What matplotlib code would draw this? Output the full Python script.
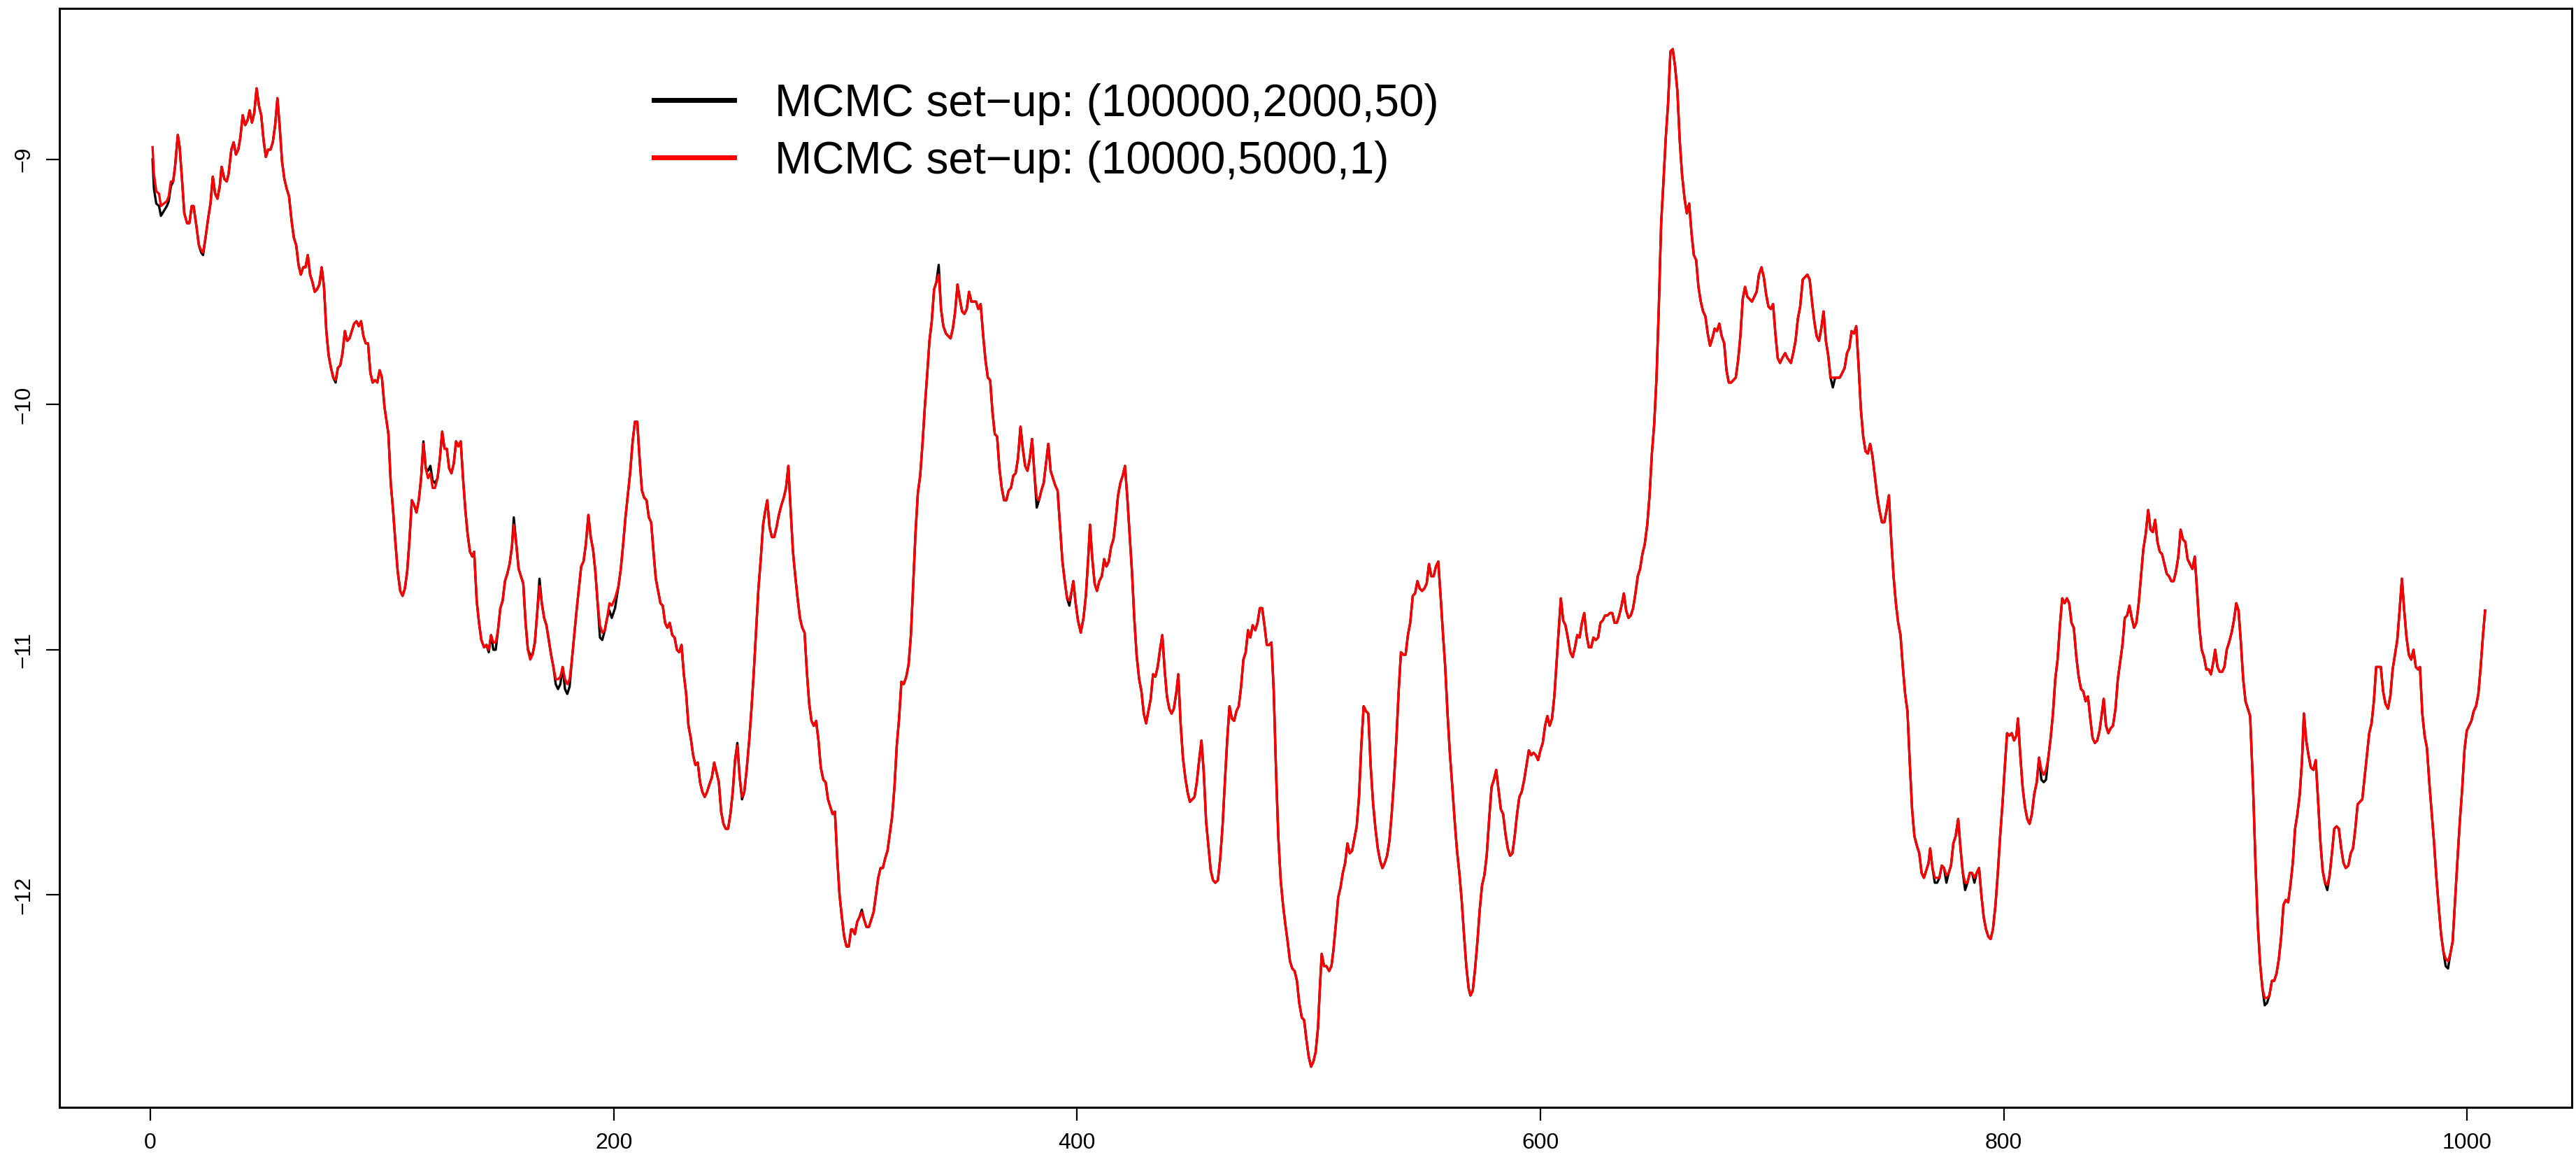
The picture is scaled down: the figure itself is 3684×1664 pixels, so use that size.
# MCMC trace comparison: two set-ups plotted over the same index range
import numpy as np
import matplotlib.pyplot as plt
from matplotlib.lines import Line2D

plt.rcParams['font.family'] = ['Liberation Sans', 'DejaVu Sans']

# index positions and values of the red series (10000,5000,1) in pieces
step_a = [1, 1.6, 2.6, 3.8, 4.6, 5.9, 7.2, 8, 8.9, 9.9,
          10.7, 11.9, 12.7, 13.7, 14.7, 15.9, 16.9, 17.9, 18.7, 19.9,
          21, 22, 22.8, 24, 25, 26, 27, 28, 29, 30,
          30.8, 32, 33, 33.8, 35, 36, 37, 38, 38.9, 39.9,
          41, 42, 42.9, 43.9, 44.9, 45.9, 46.9, 47.9, 48.9, 49.9,
          50.9, 51.9, 52.9, 53.9, 54.9, 55.9, 56.9, 57.9, 58.9, 59.9,
          61, 62, 63, 64, 65, 66, 67, 68, 69, 70,
          71, 72, 73, 74, 75, 76, 77, 78, 79, 80,
          81, 82, 83, 84, 85, 86, 87, 88, 89, 90,
          91, 92, 93, 94, 95, 96, 97, 98, 99, 100]
red_a = [-8.95, -9.06, -9.13, -9.14, -9.19, -9.18, -9.17, -9.15, -9.09, -9.09,
         -9.03, -8.90, -8.95, -9.08, -9.22, -9.26, -9.26, -9.19, -9.19, -9.27,
         -9.35, -9.37, -9.38, -9.31, -9.24, -9.18, -9.07, -9.14, -9.16, -9.11,
         -9.03, -9.08, -9.09, -9.06, -8.96, -8.93, -8.98, -8.96, -8.91, -8.82,
         -8.86, -8.84, -8.80, -8.85, -8.81, -8.71, -8.78, -8.82, -8.92, -8.99,
         -8.96, -8.96, -8.93, -8.86, -8.75, -8.87, -9.01, -9.08, -9.12, -9.15,
         -9.25, -9.32, -9.35, -9.43, -9.47, -9.44, -9.44, -9.39, -9.47, -9.50,
         -9.54, -9.53, -9.51, -9.44, -9.52, -9.70, -9.80, -9.85, -9.89, -9.90,
         -9.85, -9.84, -9.79, -9.70, -9.74, -9.73, -9.70, -9.67, -9.66, -9.68,
         -9.66, -9.72, -9.75, -9.75, -9.87, -9.91, -9.90, -9.91, -9.86, -9.89]

step_b = [101.1, 102.8, 103.8, 104.8, 105.8, 106.8, 107.9, 108.9, 109.9, 110.9,
          111.9, 112.9, 113.9, 114.9, 115.9, 116.9, 117.9, 118.9, 119.9, 120.9,
          121.9, 122.9, 124, 125, 126, 127, 128, 129, 130, 131,
          132, 133, 134, 135, 136, 137, 138, 139, 139.8, 140.9,
          141.9, 142.9, 144.1, 145.1, 146.1, 147.1, 148.1, 149.1, 150.1, 151.1,
          152.1, 153.1, 154.1, 155.1, 156.1, 156.9, 158, 159, 160, 161,
          162, 163, 164, 165, 166, 167, 168, 169, 170, 171,
          172, 173, 174, 175, 176, 177, 178, 179, 180, 181,
          182, 183, 184, 185, 186, 187, 188, 189.1, 190.1, 191.1,
          192.1, 193.1, 194.1, 195.1, 196.2, 197.2, 198.2, 199.2]
red_b = [-10.01, -10.12, -10.32, -10.43, -10.56, -10.68, -10.76, -10.78, -10.75, -10.68,
         -10.55, -10.39, -10.41, -10.44, -10.39, -10.30, -10.16, -10.26, -10.30, -10.28,
         -10.34, -10.34, -10.30, -10.22, -10.11, -10.18, -10.18, -10.26, -10.28, -10.24,
         -10.15, -10.17, -10.15, -10.30, -10.43, -10.53, -10.60, -10.62, -10.60, -10.80,
         -10.89, -10.96, -10.99, -10.98, -11.00, -10.94, -10.97, -10.97, -10.92, -10.83,
         -10.80, -10.72, -10.69, -10.65, -10.58, -10.49, -10.57, -10.67, -10.70, -10.73,
         -10.89, -11.00, -11.04, -11.02, -10.97, -10.85, -10.74, -10.81, -10.87, -10.90,
         -10.96, -11.02, -11.07, -11.12, -11.12, -11.11, -11.07, -11.12, -11.14, -11.12,
         -11.04, -10.94, -10.84, -10.75, -10.66, -10.64, -10.57, -10.45, -10.54, -10.59,
         -10.68, -10.81, -10.90, -10.93, -10.92, -10.87, -10.81, -10.82]

step_c = [200.6, 202.1, 203.1, 204.1, 205.1, 206.1, 207.1, 208.2, 209.2, 210.2,
          211.2, 212.2, 213.2, 214.2, 215.2, 216.2, 217.2, 218.2, 219.2, 220.2,
          221.2, 222.2, 223.2, 224.2, 225.3, 226.3, 227.3, 228.3, 229.3, 230.3,
          231.3, 232.3, 233.3, 234.3, 235.3, 236.3, 237.3, 238.3, 239.3, 240.3,
          241.3, 242.4, 243.4, 244.4, 245.4, 246.4, 247.4, 248.4, 249.4, 250.4,
          251.4, 252.4, 253.4, 254.4, 255.4, 256.4, 257.4, 258.5, 259.5, 260.5,
          261.5, 262.5, 263.5, 264.5, 265.5, 266.3, 267.3, 268.3, 269.3, 270.3,
          271.3, 272.4, 273.4, 274.4, 275.4, 276.4, 277.4, 278.4, 279.4, 280.4,
          281.4, 282.4, 283.4, 284.4, 285.4, 286.4, 287.4, 288.4, 289.4, 290.5,
          291.5, 292.5, 293.5, 294.5, 295.5, 296.5, 297.5, 298.5, 299.5, 300.5]
red_c = [-10.79, -10.74, -10.67, -10.57, -10.46, -10.37, -10.28, -10.15, -10.07, -10.07,
         -10.22, -10.35, -10.38, -10.39, -10.46, -10.48, -10.60, -10.71, -10.76, -10.81,
         -10.82, -10.89, -10.91, -10.89, -10.94, -10.95, -11.00, -11.01, -10.98, -11.10,
         -11.18, -11.31, -11.36, -11.43, -11.47, -11.46, -11.54, -11.58, -11.60, -11.58,
         -11.55, -11.52, -11.46, -11.50, -11.54, -11.66, -11.71, -11.73, -11.73, -11.67,
         -11.58, -11.45, -11.39, -11.52, -11.60, -11.58, -11.49, -11.37, -11.24, -11.09,
         -10.92, -10.75, -10.63, -10.49, -10.43, -10.39, -10.50, -10.54, -10.54, -10.50,
         -10.45, -10.41, -10.38, -10.34, -10.25, -10.43, -10.60, -10.70, -10.79, -10.87,
         -10.91, -10.93, -11.09, -11.22, -11.29, -11.31, -11.29, -11.37, -11.48, -11.53,
         -11.54, -11.61, -11.64, -11.67, -11.66, -11.85, -12.00, -12.09, -12.17, -12.21]

step_d = [301.5, 302.5, 303.1, 304.1, 305.1, 306.1, 307.1, 308.1, 309.1, 310.2,
          311.2, 312.2, 313.2, 314.2, 315.2, 316.2, 317.2, 318.2, 319.2, 320.2,
          321.2, 322.2, 323.2, 324.2, 325.2, 326.3, 327.3, 328.3, 329.3, 330.3,
          331.3, 332.3, 333.3, 334.3, 335.3, 336.3, 337.3, 338.3, 339.3, 340.3,
          341.3, 342.3, 343.4, 344.4, 345.4, 346.4, 347.4, 348.4, 349.4, 350.4,
          351.4, 352.4, 353.4, 354.4, 355.4, 356.4, 357.4, 358.4, 359.5, 360.5,
          361.5, 362.5, 363.5, 364.5, 365.5, 366.5, 367.5, 368.5, 369.5, 370.5,
          371.5, 372.5, 373.5, 374.5, 375.6, 376.6, 377.6, 378.6, 379.6, 380.6,
          381.6, 382.6, 383.6, 384.6, 385.6, 386.6, 387.6, 388.6, 389.6, 390.6,
          391.6, 392.7, 393.7, 394.7, 395.7, 396.7, 397.7, 398.4, 399.4, 400.4]
red_d = [-12.21, -12.14, -12.14, -12.16, -12.11, -12.09, -12.07, -12.10, -12.13, -12.13,
         -12.10, -12.07, -12.00, -11.93, -11.89, -11.89, -11.85, -11.82, -11.75, -11.68,
         -11.56, -11.39, -11.28, -11.13, -11.14, -11.11, -11.06, -10.94, -10.73, -10.52,
         -10.36, -10.29, -10.16, -10.01, -9.88, -9.74, -9.66, -9.53, -9.50, -9.47,
         -9.61, -9.68, -9.71, -9.72, -9.73, -9.69, -9.62, -9.51, -9.57, -9.62,
         -9.63, -9.61, -9.54, -9.58, -9.58, -9.58, -9.61, -9.59, -9.72, -9.82,
         -9.89, -9.90, -10.03, -10.12, -10.13, -10.26, -10.34, -10.39, -10.39, -10.35,
         -10.34, -10.29, -10.28, -10.22, -10.09, -10.18, -10.25, -10.27, -10.22, -10.14,
         -10.28, -10.38, -10.39, -10.35, -10.32, -10.24, -10.16, -10.27, -10.30, -10.33,
         -10.35, -10.50, -10.64, -10.72, -10.79, -10.80, -10.76, -10.72, -10.81, -10.88]

step_e = [401.6, 402.8, 403.8, 404.8, 405.6, 406.6, 407.6, 408.6, 409.6, 410.7,
          411.7, 412.7, 413.7, 414.7, 415.7, 416.7, 417.7, 418.7, 419.7, 420.7,
          421.7, 422.7, 423.7, 424.7, 425.7, 426.8, 427.8, 428.8, 429.8, 430.8,
          431.8, 432.8, 433.8, 434.8, 435.8, 436.8, 437.8, 438.8, 439.8, 440.8,
          441.8, 442.9, 443.7, 444.7, 445.7, 446.7, 447.7, 448.7, 449.7, 450.7,
          451.7, 452.7, 453.7, 454.7, 455.7, 456.7, 457.7, 458.7, 459.7, 460.8,
          461.8, 462.8, 463.8, 464.8, 465.8, 466.8, 467.8, 468.8, 469.8, 470.8,
          471.8, 472.8, 473.8, 474.8, 475.8, 476.9, 477.9, 478.9, 479.9, 480.9,
          481.9, 482.9, 483.9, 484.9, 485.9, 486.9, 487.9, 488.9, 489.9, 490.9,
          491.9, 492.9, 493.9, 494.9, 495.9, 497, 498, 499, 500, 501,
          502, 503, 504]
red_e = [-10.93, -10.87, -10.78, -10.63, -10.49, -10.63, -10.73, -10.76, -10.72, -10.70,
         -10.63, -10.66, -10.64, -10.58, -10.55, -10.47, -10.37, -10.32, -10.29, -10.25,
         -10.38, -10.53, -10.68, -10.87, -11.02, -11.12, -11.17, -11.26, -11.30, -11.25,
         -11.20, -11.10, -11.11, -11.07, -11.00, -10.94, -11.08, -11.19, -11.24, -11.26,
         -11.24, -11.17, -11.10, -11.30, -11.44, -11.52, -11.58, -11.62, -11.61, -11.60,
         -11.54, -11.45, -11.37, -11.50, -11.70, -11.80, -11.90, -11.94, -11.95, -11.94,
         -11.85, -11.72, -11.54, -11.37, -11.23, -11.28, -11.29, -11.25, -11.23, -11.15,
         -11.04, -11.01, -10.92, -10.95, -10.90, -10.92, -10.89, -10.83, -10.83, -10.90,
         -10.98, -10.98, -10.97, -11.17, -11.50, -11.77, -11.94, -12.04, -12.12, -12.19,
         -12.27, -12.30, -12.31, -12.35, -12.44, -12.50, -12.51, -12.59, -12.66, -12.70,
         -12.68, -12.64, -12.54]

step_f = [504.8, 505.6, 506.6, 507.6, 508.8, 509.8, 510.6, 511.7, 512.7, 513.7,
          514.7, 515.7, 516.7, 517.7, 518.7, 519.7, 520.7, 521.7, 522.7, 523.7,
          524.7, 525.7, 526.7, 527.8, 528.8, 529.8, 530.8, 531.8, 532.8, 533.8,
          534.8, 535.8, 536.8, 537.8, 538.8, 539.8, 540.8, 541.8, 542.8, 543.8,
          544.9, 545.9, 546.9, 547.9, 548.9, 549.9, 550.9, 551.9, 552.9, 553.9,
          554.9, 555.9, 556.9, 557.9, 558.9, 559.9, 560.9, 561.9, 563, 564,
          565, 566, 567, 568, 569, 569.8, 570.8, 571.8, 572.8, 573.8,
          574.8, 575.8, 576.8, 577.8, 578.9, 579.9, 580.9, 581.9, 582.9, 583.9,
          584.9, 585.9, 586.9, 587.9, 588.9, 589.9, 590.9, 591.9, 593, 594,
          595, 596, 597, 598, 599, 600, 601, 602, 603, 604,
          605, 606]
red_f = [-12.38, -12.24, -12.29, -12.29, -12.31, -12.29, -12.23, -12.12, -12.01, -11.97,
         -11.91, -11.87, -11.79, -11.83, -11.82, -11.77, -11.72, -11.60, -11.39, -11.23,
         -11.25, -11.26, -11.47, -11.63, -11.73, -11.81, -11.86, -11.89, -11.87, -11.84,
         -11.78, -11.67, -11.53, -11.37, -11.17, -11.01, -11.02, -11.02, -10.94, -10.89,
         -10.78, -10.77, -10.72, -10.75, -10.76, -10.75, -10.73, -10.65, -10.70, -10.70,
         -10.66, -10.64, -10.78, -10.93, -11.07, -11.26, -11.42, -11.55, -11.70, -11.82,
         -11.91, -12.02, -12.16, -12.29, -12.38, -12.41, -12.39, -12.30, -12.19, -12.06,
         -11.96, -11.92, -11.84, -11.70, -11.56, -11.53, -11.49, -11.57, -11.65, -11.67,
         -11.75, -11.81, -11.84, -11.83, -11.76, -11.67, -11.60, -11.58, -11.53, -11.47,
         -11.41, -11.43, -11.42, -11.43, -11.45, -11.41, -11.38, -11.31, -11.27, -11.31,
         -11.28, -11.19]

step_g = [607.8, 608.8, 609.8, 610.8, 611.8, 612.9, 613.9, 614.9, 615.9, 616.9,
          617.9, 618.9, 619.9, 620.9, 621.9, 622.9, 623.9, 624.9, 625.9, 626.9,
          627.9, 628.9, 630, 631, 632, 633, 634, 635, 636, 637,
          638, 639, 640, 641, 642, 643, 644, 645, 646.1, 647.1,
          648.1, 649.1, 650.1, 651.1, 652.1, 653.1, 654.1, 655.1, 656.1, 657.1,
          658.1, 659.1, 660.1, 661.1, 662.2, 663.2, 664.2, 665.2, 666.2, 667.2,
          668.2, 669.2, 670.2, 671.2, 672.2, 673.2, 674.2, 675.2, 676.2, 677.2,
          678.2, 679.3, 680.3, 681.3, 682.3, 683.3, 684.3, 685.3, 686.3, 687.3,
          688.3, 689.3, 690.3, 691.3, 692.3, 693.3, 694.3, 695.4, 696.4, 697.4,
          698.4, 699.4, 700.4, 701.4, 702.4, 703.4, 704.4]
red_g = [-10.93, -10.79, -10.88, -10.90, -10.95, -11.01, -11.03, -10.99, -10.94, -10.95,
         -10.89, -10.85, -10.94, -10.99, -10.99, -10.95, -10.96, -10.95, -10.89, -10.88,
         -10.86, -10.86, -10.85, -10.85, -10.89, -10.89, -10.86, -10.82, -10.77, -10.84,
         -10.87, -10.86, -10.83, -10.77, -10.70, -10.67, -10.61, -10.57, -10.49, -10.37,
         -10.20, -10.08, -9.89, -9.60, -9.26, -9.09, -8.91, -8.77, -8.56, -8.55,
         -8.62, -8.72, -8.92, -9.06, -9.16, -9.22, -9.18, -9.30, -9.39, -9.41,
         -9.52, -9.58, -9.62, -9.64, -9.71, -9.76, -9.73, -9.69, -9.70, -9.67,
         -9.72, -9.75, -9.86, -9.91, -9.91, -9.90, -9.89, -9.82, -9.72, -9.57,
         -9.52, -9.56, -9.57, -9.58, -9.56, -9.54, -9.47, -9.44, -9.48, -9.55,
         -9.60, -9.61, -9.59, -9.71, -9.81, -9.83, -9.81]

step_h = [705.6, 706.6, 708.1, 709.1, 710.1, 711.1, 712.1, 713.2, 714.2, 715.2,
          716.2, 717.2, 718.2, 719.2, 720.2, 721.2, 722.2, 723.2, 724.2, 725.2,
          726.2, 727.2, 728.2, 729.2, 730.3, 731.3, 732.3, 733.3, 734.3, 735.3,
          736.3, 737.3, 738.3, 739.3, 740.3, 741.3, 742.3, 743.3, 744.3, 745.3,
          746.3, 747.4, 748.4, 749.4, 750.4, 751.4, 752.4, 753.4, 754.4, 755.4,
          756.4, 757.4, 758.4, 759.4, 760.4, 761.4, 762.5, 763.5, 764.5, 765.5,
          766.5, 767.5, 768.2, 769.2, 770.2, 771.2, 772.2, 773.2, 774.2, 775.2,
          776.2, 777.2, 778.2, 779.2, 780.3, 781.3, 782.3, 783.3, 784.3, 785.3,
          786.3, 787.3, 788.3, 789.3, 790.3, 791.3, 792.3, 793.3, 794.3, 795.3,
          796.4, 797.4, 798.4, 799.4, 800.4, 801.4, 802.4, 803.4, 804.4, 805.4]
red_h = [-9.79, -9.81, -9.83, -9.79, -9.74, -9.65, -9.60, -9.49, -9.48, -9.47,
         -9.49, -9.58, -9.66, -9.72, -9.74, -9.69, -9.62, -9.74, -9.80, -9.89,
         -9.89, -9.89, -9.89, -9.89, -9.87, -9.85, -9.79, -9.77, -9.70, -9.71,
         -9.68, -9.84, -10.02, -10.13, -10.19, -10.20, -10.16, -10.21, -10.29, -10.37,
         -10.43, -10.48, -10.48, -10.43, -10.37, -10.55, -10.70, -10.81, -10.89, -10.94,
         -11.07, -11.18, -11.25, -11.46, -11.65, -11.76, -11.80, -11.83, -11.91, -11.93,
         -11.90, -11.87, -11.81, -11.89, -11.93, -11.93, -11.93, -11.88, -11.89, -11.92,
         -11.91, -11.88, -11.79, -11.76, -11.69, -11.81, -11.91, -11.95, -11.95, -11.91,
         -11.91, -11.93, -11.91, -11.89, -12.00, -12.09, -12.14, -12.17, -12.18, -12.14,
         -12.04, -11.91, -11.76, -11.63, -11.48, -11.34, -11.35, -11.34, -11.37, -11.35]

step_i = [806.1, 807.1, 808.1, 809.1, 810.1, 811.1, 812.1, 813.1, 814.2, 815.2,
          816.2, 817.2, 818.2, 819.2, 820.2, 821.2, 822.2, 823.2, 824.2, 825.2,
          826.2, 827.2, 828.2, 829.2, 830.2, 831.3, 832.3, 833.3, 834.3, 835.3,
          836.3, 837.3, 838.3, 839.3, 840.3, 841.3, 842.3, 843.1, 844.1, 845.1,
          846.1, 847.1, 848.2, 849.2, 850.2, 851.2, 852.2, 853.2, 854.2, 855.2,
          856.2, 857.2, 858.2, 859.2, 860.2, 861.2, 862.3, 863.3, 864.3, 865.3,
          866.3, 867.3, 868.3, 869.3, 870.3, 871.3, 872.3, 873.3, 874.3, 875.3,
          876.3, 877.3, 878.3, 879.3, 880.3, 881.4, 882.4, 883.4, 884.4, 885.4,
          886.4, 887.4, 888.4, 889.4, 890.4, 891.2, 892.2, 893.2, 894.2, 895.2,
          896.2, 897.2, 898.3, 899.3, 900.3, 901.3, 902.3, 903.3, 904.3, 905.3,
          906.3]
red_i = [-11.28, -11.43, -11.56, -11.64, -11.69, -11.71, -11.67, -11.59, -11.54, -11.44,
         -11.49, -11.51, -11.49, -11.44, -11.36, -11.26, -11.12, -11.04, -10.90, -10.79,
         -10.81, -10.79, -10.81, -10.89, -10.91, -11.03, -11.11, -11.16, -11.17, -11.21,
         -11.19, -11.28, -11.36, -11.38, -11.37, -11.33, -11.26, -11.20, -11.31, -11.34,
         -11.32, -11.31, -11.24, -11.12, -11.05, -10.98, -10.87, -10.86, -10.82, -10.87,
         -10.91, -10.89, -10.81, -10.70, -10.59, -10.53, -10.43, -10.51, -10.52, -10.47,
         -10.56, -10.60, -10.61, -10.65, -10.69, -10.70, -10.72, -10.72, -10.68, -10.62,
         -10.51, -10.55, -10.56, -10.63, -10.65, -10.67, -10.62, -10.76, -10.91, -11.00,
         -11.03, -11.08, -11.08, -11.10, -11.05, -11.00, -11.07, -11.09, -11.09, -11.07,
         -11.00, -10.97, -10.93, -10.88, -10.81, -10.84, -10.97, -11.12, -11.21, -11.24,
         -11.27]

step_j = [907.6, 908.6, 909.6, 910.6, 911.6, 912.6, 913.6, 914.6, 915.7, 916.7,
          917.7, 918.7, 919.7, 920.7, 921.7, 922.7, 923.7, 924.7, 925.7, 926.7,
          927.7, 928.7, 929.5, 930.5, 931.5, 932.5, 933.6, 934.6, 935.6, 936.6,
          937.6, 938.6, 939.6, 940.6, 941.6, 942.6, 943.6, 944.6, 945.6, 946.6,
          947.6, 948.7, 949.7, 950.7, 951.7, 952.7, 953.7, 954.7, 955.7, 956.7,
          957.7, 958.7, 959.7, 960.7, 961.7, 962.7, 963.7, 964.7, 965.8, 966.8,
          967.8, 968.8, 969.8, 970.8, 971.8, 972.8, 973.8, 974.8, 975.8, 976.8,
          977.8, 978.8, 979.6, 980.6, 981.6, 982.6, 983.7, 984.7, 985.7, 986.7,
          987.7, 988.7, 989.7, 990.7, 991.7, 992.7, 993.7, 994.7, 995.7, 996.8,
          997.8, 998.8, 999.8, 1000.8, 1001.8, 1002.8, 1003.8, 1004.8, 1005.8, 1006.8,
          1007.7]
red_j = [-11.57, -11.87, -12.12, -12.28, -12.38, -12.42, -12.42, -12.41, -12.35, -12.35,
         -12.32, -12.26, -12.17, -12.04, -12.02, -12.03, -11.96, -11.87, -11.73, -11.67,
         -11.59, -11.45, -11.26, -11.37, -11.43, -11.48, -11.49, -11.45, -11.61, -11.78,
         -11.90, -11.95, -11.96, -11.92, -11.83, -11.73, -11.72, -11.73, -11.81, -11.87,
         -11.89, -11.88, -11.83, -11.81, -11.73, -11.63, -11.62, -11.61, -11.52, -11.43,
         -11.34, -11.30, -11.21, -11.07, -11.07, -11.07, -11.17, -11.22, -11.24, -11.19,
         -11.08, -11.02, -10.96, -10.84, -10.71, -10.84, -10.95, -11.02, -11.04, -11.00,
         -11.07, -11.08, -11.07, -11.26, -11.35, -11.40, -11.55, -11.67, -11.79, -11.93,
         -12.05, -12.16, -12.23, -12.26, -12.27, -12.24, -12.19, -12.03, -11.87, -11.70,
         -11.57, -11.41, -11.33, -11.31, -11.29, -11.25, -11.23, -11.18, -11.07, -10.94,
         -10.84]

# places where the black series (100000,2000,50) visibly leaves the red one
black_step = [1, 1.6, 2.6, 3.8, 4.6, 5.9, 7.2, 8, 8.9, 22, 22.8, 80,
              117.9, 119.9, 120.9, 121.9, 122.9, 146.1, 148.1, 149.1, 156.9, 164, 168,
              175, 176, 177, 179, 180, 181, 194.1, 195.1, 198.2, 199.2, 200.6,
              253.4, 255.4, 307.1, 340.3, 382.6, 396.7, 726.2, 770.2, 771.2, 775.2,
              783.3, 787.3, 816.2, 817.2, 818.2, 889.4, 912.6, 913.6, 939.6, 990.7, 991.7]
black_val = [-9.00, -9.12, -9.18, -9.19, -9.23, -9.21, -9.19, -9.17, -9.11, -9.38, -9.39, -9.91,
             -10.15, -10.27, -10.25, -10.31, -10.32, -11.01, -11.00, -11.00, -10.46, -11.02, -10.71,
             -11.14, -11.16, -11.14, -11.16, -11.18, -11.15, -10.95, -10.96, -10.84, -10.87, -10.83,
             -11.38, -11.61, -12.06, -9.43, -10.42, -10.82, -9.93, -11.95, -11.95, -11.95,
             -11.98, -11.95, -11.53, -11.54, -11.53, -11.10, -12.45, -12.44, -11.98, -12.29, -12.30]

legend_labels = ['MCMC set\u2212up: (100000,2000,50)', 'MCMC set\u2212up: (10000,5000,1)']
x_ticks = [0, 200, 400, 600, 800, 1000]
y_ticks = [-12, -11, -10, -9]
n_index = 1005  # length of the chain index, as the axis range shows

step = np.array(step_a + step_b + step_c + step_d + step_e + step_f + step_g + step_h + step_i + step_j)
red = np.array(red_a + red_b + red_c + red_d + red_e + red_f + red_g + red_h + red_i + red_j)

black = red.copy()
for s, v in zip(black_step, black_val):
    black[np.argmin(np.abs(step - s))] = v

fig = plt.figure(figsize=(36.84, 16.64), dpi=100)
ax = fig.add_axes([0.0231, 0.0487, 0.9753, 0.9441])

ax.plot(step, black, color='black', lw=2.4)
ax.plot(step, red, color='red', lw=2.4)

# R style 4% padding on both axes
xr = n_index - 1
ax.set_xlim(1 - 0.04 * xr, n_index + 0.04 * xr)
ylo = min(black.min(), red.min())
yhi = max(black.max(), red.max())
yr = yhi - ylo
ax.set_ylim(ylo - 0.04 * yr, yhi + 0.04 * yr)

ax.set_xticks(x_ticks)
ax.set_yticks(y_ticks)
ax.tick_params(direction='out', length=14, width=1.6, labelsize=23, pad=12)
ax.tick_params(axis='y', labelrotation=90)
for lab in ax.get_yticklabels():
    lab.set_verticalalignment('center')
for sp in ax.spines.values():
    sp.set_linewidth(2.2)

handles = [Line2D([], [], color='black', lw=5), Line2D([], [], color='red', lw=5)]
ax.legend(handles, legend_labels, loc='upper left', bbox_to_anchor=(0.2366, 0.932),
          frameon=False, fontsize=46, handlelength=1.8, handletextpad=0.9,
          labelspacing=0.34, borderpad=0, borderaxespad=0)

fig.savefig('out.png', dpi=100)
